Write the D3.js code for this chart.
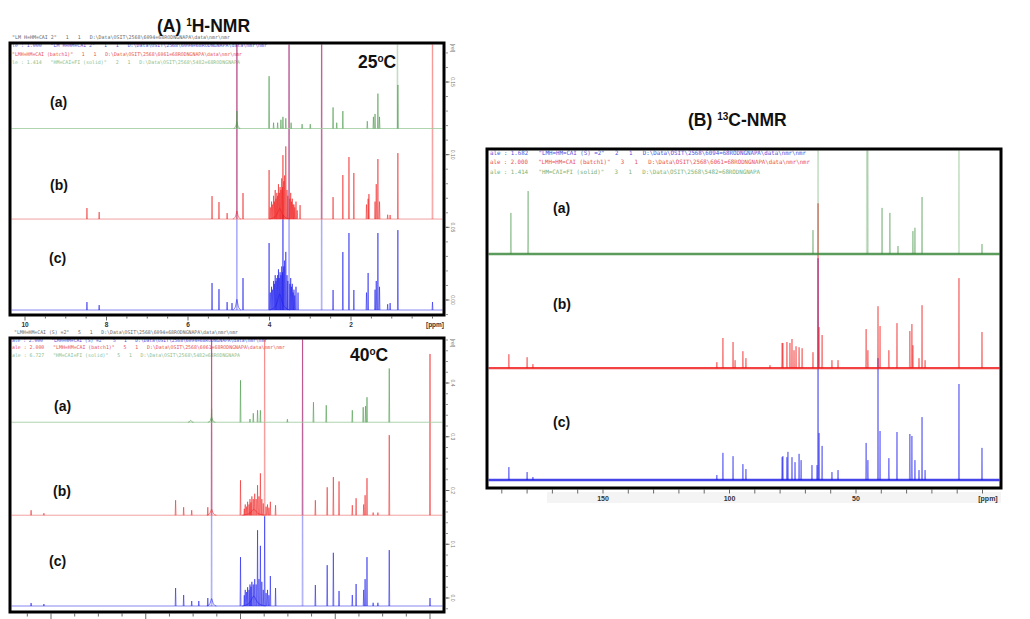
<!DOCTYPE html>
<html><head><meta charset="utf-8">
<script src="https://cdn.jsdelivr.net/npm/d3@7"></script>
<style>
html,body{margin:0;padding:0;background:#fff;}
svg{display:block;}
</style></head><body>
<script>
// ---------------- 1H NMR, 25 °C ----------------
const h25XTicks = [10, 8, 6, 4, 2];
const h25YTicks = [0, 0.05, 0.10, 0.15];
const h25Offsets = { a: 0.118, b: 0.0557, c: -0.0069 };
// [ppm, intensity(, half-width ppm for broad bands)]
const h25A = [[4.80,0.012],[4.80,0.005,0.08],[4.01,0.036],[3.90,0.004],[3.80,0.004],[3.72,0.006],[3.67,0.008],[3.60,0.007],[3.47,0.004],[3.20,0.003],[3.00,0.003],[2.44,0.0145],[2.35,0.004],[2.20,0.012],[1.60,0.005],[1.45,0.008],[1.41,0.010],[1.34,0.024],[1.30,0.008],[0.86,0.30],[0.85,0.030]];
const h25B = [[8.48,0.0076],[8.18,0.0048],[5.41,0.0158],[5.24,0.0117],[5.04,0.0041],[4.80,0.30],[4.80,0.006,0.10],[4.65,0.0179],[4.01,0.0337],[3.98,0.008],[3.95,0.012],[3.93,0.010],[3.90,0.016],[3.88,0.012],[3.86,0.020],[3.84,0.014],[3.82,0.018],[3.80,0.016],[3.78,0.024],[3.76,0.018],[3.74,0.022],[3.72,0.020],[3.70,0.028],[3.68,0.022],[3.67,0.044],[3.65,0.026],[3.63,0.030],[3.60,0.050],[3.57,0.020],[3.55,0.016],[3.52,0.30],[3.50,0.014],[3.48,0.018],[3.46,0.012],[3.44,0.014],[3.42,0.010],[3.40,0.010],[3.38,0.008],[3.35,0.012],[3.32,0.006],[3.75,0.008,0.25],[3.25,0.0096],[2.72,0.30],[2.44,0.0151],[2.20,0.0303],[2.05,0.0427],[1.93,0.0317],[1.62,0.010],[1.58,0.014],[1.56,0.0172],[1.41,0.012],[1.38,0.024],[1.34,0.0413],[1.30,0.012],[1.10,0.003],[1.04,0.0028],[0.85,0.0454],[0.0,0.30]];
const h25C = [[8.48,0.0055],[8.18,0.0034],[5.41,0.0186],[5.24,0.0144],[5.04,0.0055],[4.92,0.0048],[4.80,0.30],[4.80,0.008,0.10],[4.65,0.022],[4.01,0.0461],[3.98,0.012],[3.95,0.016],[3.93,0.014],[3.90,0.020],[3.88,0.018],[3.86,0.024],[3.84,0.020],[3.82,0.022],[3.80,0.024],[3.78,0.028],[3.76,0.022],[3.74,0.026],[3.72,0.024],[3.70,0.030],[3.68,0.026],[3.67,0.0654],[3.65,0.030],[3.63,0.034],[3.60,0.040],[3.57,0.024],[3.55,0.020],[3.52,0.30],[3.50,0.018],[3.48,0.022],[3.46,0.016],[3.44,0.018],[3.42,0.012],[3.40,0.014],[3.38,0.010],[3.35,0.016],[3.30,0.012],[3.75,0.012,0.25],[2.72,0.30],[2.44,0.0138],[2.20,0.0399],[2.05,0.053],[1.93,0.0138],[1.62,0.012],[1.58,0.0255],[1.41,0.014],[1.38,0.020],[1.34,0.053],[1.30,0.016],[1.10,0.004],[1.04,0.0048],[0.85,0.055],[0.0,0.0055]];
const h25Header = [
  '"LM H=HM=CAI 2"   1   1   D:\\Data\\OSIT\\2568\\6094=68RODNGNAPA\\data\\nmr\\nmr',
  'le : 1.000   "LM H=HM=CAI 2"   1   1   D:\\Data\\OSIT\\2568\\6094=68RODNGNAPA\\data\\nmr\\nmr',
  '"LMH=HM=CAI (batch1)"   1   1   D:\\Data\\OSIT\\2568\\6061=68RODNGNAPA\\data\\nmr\\nmr',
  'le : 1.414   "HM=CAI=FI (solid)"   2   1   D:\\Data\\OSIT\\2568\\5482=68RODNGNAPA'
];

// ---------------- 1H NMR, 40 °C ----------------
const h40XTicks = [8, 6, 4, 2, 0];
const h40YTicks = [0, 0.1, 0.2, 0.3, 0.4];
const h40Offsets = { a: 0.327, b: 0.154, c: -0.0149 };
const h40A = [[5.05,0.004,0.06],[4.61,0.025],[4.61,0.010,0.08],[4.00,0.078],[3.80,0.006],[3.73,0.0167],[3.64,0.0223],[3.58,0.0223],[3.01,0.0056],[2.46,0.0372],[2.19,0.0316],[1.64,0.0223],[1.41,0.028],[1.36,0.030],[1.33,0.0465],[0.86,0.100]];
const h40B = [[8.42,0.0093],[8.15,0.0037],[5.37,0.0279],[5.20,0.0149],[5.03,0.0093],[4.69,0.0149],[4.61,0.50],[4.61,0.012,0.10],[4.00,0.065],[3.92,0.012],[3.90,0.020],[3.87,0.016],[3.85,0.025],[3.82,0.020],[3.80,0.030],[3.78,0.024],[3.76,0.035],[3.73,0.030],[3.70,0.040],[3.67,0.030],[3.64,0.0558],[3.61,0.035],[3.58,0.078],[3.55,0.030],[3.52,0.022],[3.49,0.50],[3.46,0.016],[3.43,0.020],[3.40,0.014],[3.37,0.025],[3.72,0.012,0.25],[3.26,0.0186],[2.69,0.50],[2.42,0.0279],[2.17,0.052],[2.04,0.071],[1.92,0.063],[1.64,0.0186],[1.56,0.0316],[1.40,0.020],[1.37,0.0372],[1.33,0.069],[1.20,0.005],[1.10,0.005],[0.86,0.149],[0.0,0.30]];
const h40C = [[8.42,0.0056],[8.15,0.0037],[5.37,0.0335],[5.20,0.0205],[5.03,0.0093],[4.88,0.0093],[4.69,0.0149],[4.61,0.50],[4.61,0.015,0.10],[4.00,0.091],[3.92,0.020],[3.90,0.030],[3.87,0.026],[3.85,0.035],[3.82,0.030],[3.80,0.040],[3.78,0.036],[3.76,0.045],[3.73,0.040],[3.70,0.050],[3.67,0.040],[3.64,0.141],[3.61,0.050],[3.58,0.112],[3.55,0.045],[3.52,0.030],[3.49,0.167],[3.46,0.024],[3.43,0.030],[3.40,0.020],[3.37,0.0558],[3.72,0.020,0.25],[3.26,0.0335],[2.69,0.50],[2.42,0.039],[2.17,0.076],[2.04,0.099],[1.92,0.028],[1.64,0.0205],[1.56,0.041],[1.40,0.030],[1.37,0.050],[1.33,0.091],[1.20,0.006],[1.10,0.006],[0.86,0.104],[0.0,0.0149]];
const h40Header = [
  '"LMH=HM=CAI (S) =2"   5   1   D:\\Data\\OSIT\\2568\\6094=68RODNGNAPA\\data\\nmr\\nmr',
  'ale : 2.000   "LMH=HM=CAI (S) =2"   5   1   D:\\Data\\OSIT\\2568\\6094=68RODNGNAPA\\data\\nmr\\nmr',
  'ale : 2.000   "LMH=HM=CAI (batch1)"   5   1   D:\\Data\\OSIT\\2568\\6061=68RODNGNAPA\\data\\nmr\\nmr',
  'ale : 6.727   "HM=CAI=FI (solid)"   5   1   D:\\Data\\OSIT\\2568\\5482=68RODNGNAPA'
];

// ---------------- 13C NMR ----------------
const c13XTicks = [150, 100, 50];
const c13Offsets = { a: 68.3, b: 33.8, c: 0 };
const c13A = [[186.4,12.4],[179.6,19.0],[67.0,7.2],[65.0,100],[45.7,100],[45.3,100],[39.7,13.9],[36.6,12.4],[33.4,2.4],[27.5,6.9],[26.7,7.9],[23.9,17.2],[9.3,100],[0.2,3.0]];
const c13B = [[187.2,4.2],[180.0,3.3],[177.7,1.2],[105.0,1.8],[102.6,9.1],[98.6,7.9],[97.8,2.4],[94.7,5.1],[93.5,3.0],[84.0,0.9],[79.2,7.6],[78.9,7.6],[77.3,7.9],[76.1,7.6],[75.3,8.8],[74.5,5.4],[73.7,6.6],[72.5,6.3],[71.3,6.0],[67.0,4.8],[65.0,49.8],[64.6,12.4],[63.4,10.0],[59.5,2.4],[57.1,2.4],[46.0,11.8],[45.3,5.4],[41.3,18.7],[40.5,12.7],[37.0,5.4],[33.8,13.6],[28.7,11.2],[27.9,13.3],[27.5,6.9],[25.1,3.0],[23.9,19.0],[22.7,2.4],[9.3,27.2],[0.2,10.9]];
const c13C = [[187.2,3.9],[180.0,2.4],[177.7,0.9],[105.0,1.5],[102.6,8.2],[98.6,7.2],[94.7,4.8],[93.5,3.3],[79.2,6.9],[78.9,7.2],[77.3,6.9],[76.9,8.5],[75.3,6.9],[74.1,5.4],[72.5,7.9],[71.7,6.0],[67.4,4.5],[65.4,4.5],[65.0,67],[64.6,14.2],[63.4,10.3],[59.5,2.4],[57.1,3.0],[46.0,11.2],[45.3,6.0],[41.3,36.8],[40.5,14.8],[37.0,6.6],[33.8,14.5],[28.7,13.9],[27.9,13.3],[26.7,6.0],[25.1,3.0],[23.9,19.0],[22.7,3.0],[9.3,29.0],[0.2,9.7]];
const c13Header = [
  'ale : 1.682   "LMH=HM=CAI (S) =2"   2   1   D:\\Data\\OSIT\\2568\\6094=68RODNGNAPA\\data\\nmr\\nmr',
  'ale : 2.000   "LMH=HM=CAI (batch1)"   3   1   D:\\Data\\OSIT\\2568\\6061=68RODNGNAPA\\data\\nmr\\nmr',
  'ale : 1.414   "HM=CAI=FI (solid)"   3   1   D:\\Data\\OSIT\\2568\\5482=68RODNGNAPA'
];

const sampleLabels = ["(a)", "(b)", "(c)"];

// ---------------------------------------------------------------
const svg = d3.select("body").append("svg")
  .attr("width", 1030).attr("height", 619)
  .style("font-family", "'Liberation Sans', Arial, sans-serif");
const defs = svg.append("defs");
const mono = "'DejaVu Sans Mono', 'Liberation Mono', monospace";

const broadLine = d3.line().curve(d3.curveBasis);
// relative profile of a broad band, in units of its half-width / height
const bandProfile = [[1,0],[0.6,0.08],[0.3,0.3],[0.12,0.75],[0,1],[-0.12,0.75],[-0.3,0.3],[-0.6,0.08],[-1,0]];

function drawPanel(p) {
  const g = svg.append("g");
  const f = p.frame;
  const clipId = p.id + "-clip";
  defs.append("clipPath").attr("id", clipId)
    .append("rect").attr("x", f.x + 1.5).attr("y", f.y + 1.5)
    .attr("width", f.w - 3).attr("height", f.h - 3);

  // acquisition header lines
  p.header.forEach(h => {
    g.append("text").attr("x", h.x).attr("y", h.y)
      .attr("xml:space", "preserve").style("white-space", "pre")
      .attr("textLength", h.len).attr("lengthAdjust", "spacingAndGlyphs")
      .style("font-family", mono).style("font-size", h.size + "px")
      .attr("fill", h.color).attr("opacity", h.op || 0.9)
      .text(h.text);
  });

  const plot = g.append("g").attr("clip-path", `url(#${clipId})`);
  const left = p.x.invert(f.x), right = p.x.invert(f.x + f.w);

  p.series.forEach(s => {
    const base = p.y(s.offset);
    // baseline
    plot.append("line")
      .attr("x1", p.x(left)).attr("x2", p.x(right))
      .attr("y1", base).attr("y2", base)
      .attr("stroke", s.baseColor).attr("stroke-width", s.baseWidth)
      .attr("opacity", s.baseOp);
    // broad bands
    s.peaks.filter(d => d.length > 2).forEach(([ppm, h, w]) => {
      plot.append("path")
        .attr("d", broadLine(bandProfile.map(([dx, fy]) => [p.x(ppm + dx * w), p.y(s.offset + fy * h)])))
        .attr("fill", "none").attr("stroke", s.color)
        .attr("stroke-width", 0.8).attr("opacity", s.op);
    });
    // sharp lines; those running off the top of the frame are drawn paler
    const sharp = s.peaks.filter(d => d.length === 2);
    [false, true].forEach(tall => {
      const path = d3.path();
      sharp.filter(([, h]) => (p.y(s.offset + h) < f.y) === tall).forEach(([ppm, h]) => {
        path.moveTo(p.x(ppm + p.hw), base);
        path.lineTo(p.x(ppm), p.y(s.offset + h));
        path.lineTo(p.x(ppm - p.hw), base);
      });
      plot.append("path").attr("d", path.toString())
        .attr("fill", "none").attr("stroke", s.color)
        .attr("stroke-width", tall ? 0.7 : s.lineWidth)
        .attr("opacity", tall ? s.tallOp : s.op);
    });
  });

  // sample labels
  p.labels.forEach((l, i) => {
    g.append("text").attr("x", l.x).attr("y", l.y)
      .style("font-size", "14px").style("font-weight", "bold")
      .attr("fill", "#111").text(sampleLabels[i]);
  });

  // x ticks below the frame
  const fb = f.y + f.h + 1.5;
  const minor = d3.range(Math.ceil(right / p.minorStep) * p.minorStep, left + 1e-9, p.minorStep);
  g.selectAll(null).data(minor).join("line")
    .attr("x1", d => p.x(d)).attr("x2", d => p.x(d))
    .attr("y1", fb).attr("y2", d => fb + (p.xTicks.includes(+d.toFixed(3)) ? p.majorLen : p.minorLen))
    .attr("stroke", "#444").attr("stroke-width", 0.8);
  if (p.xLabelY) {
    g.selectAll(null).data(p.xTicks).join("text")
      .attr("x", d => p.x(d)).attr("y", p.xLabelY)
      .attr("text-anchor", "middle")
      .style("font-size", p.xLabelSize + "px").style("font-weight", "bold")
      .attr("fill", "#333").text(d => d);
    g.append("text").attr("x", p.ppmX).attr("y", p.xLabelY)
      .attr("text-anchor", "middle")
      .style("font-size", p.xLabelSize + "px").style("font-weight", "bold")
      .attr("fill", "#333").text("[ppm]");
  }

  // frame
  g.append("rect").attr("x", f.x).attr("y", f.y).attr("width", f.w).attr("height", f.h)
    .attr("fill", "none").attr("stroke", "#000").attr("stroke-width", 3);
  return g;
}

function rightAxis(g, p, ticks, minorStep, fmt) {
  const f = p.frame;
  const xr = f.x + f.w + 1.5;
  const lo = p.y.invert(f.y + f.h), hi = p.y.invert(f.y);
  const minor = d3.range(Math.ceil(lo / minorStep) * minorStep, hi, minorStep);
  g.selectAll(null).data(minor).join("line")
    .attr("x1", xr).attr("x2", xr + 2.5)
    .attr("y1", d => p.y(d)).attr("y2", d => p.y(d))
    .attr("stroke", "#666").attr("stroke-width", 0.7);
  g.selectAll(null).data(ticks).join("line")
    .attr("x1", xr).attr("x2", xr + 4)
    .attr("y1", d => p.y(d)).attr("y2", d => p.y(d))
    .attr("stroke", "#555").attr("stroke-width", 0.8);
  g.selectAll(null).data(ticks).join("text")
    .attr("transform", d => `translate(${xr + 5},${p.y(d)}) rotate(90)`)
    .attr("text-anchor", "middle")
    .style("font-size", "5px").attr("fill", "#777").text(fmt);
  g.append("text")
    .attr("transform", `translate(${xr + 5},${f.y + 5}) rotate(90)`)
    .attr("text-anchor", "middle")
    .style("font-size", "5px").attr("fill", "#777").text("[rel]");
}

// ---- 1H 25 °C ----
const p25 = {
  id: "h25",
  frame: { x: 10, y: 43, w: 434, h: 272 },
  x: d3.scaleLinear().domain([10, 2]).range([25, 351]),
  y: d3.scaleLinear().domain([0, 0.15]).range([300, 82]),
  hw: 0.01, minorStep: 0.5, majorLen: 4, minorLen: 2,
  xTicks: h25XTicks, xLabelY: 327, xLabelSize: 6.5, ppmX: 435,
  header: [
    { text: h25Header[0], x: 12, y: 39, len: 218, size: 5, color: "#555" },
    { text: h25Header[1], x: 12, y: 47, len: 255, size: 5, color: "#3b3bd8" },
    { text: h25Header[2], x: 12, y: 55.5, len: 230, size: 5, color: "#e83a3a" },
    { text: h25Header[3], x: 12, y: 63.5, len: 228, size: 5, color: "#7fb87f" }
  ],
  series: [
    { peaks: h25C, offset: h25Offsets.c, color: "#2222ee", baseColor: "#6a6af0", baseWidth: 1, baseOp: 0.8, lineWidth: 0.8, op: 0.75, tallOp: 0.45 },
    { peaks: h25B, offset: h25Offsets.b, color: "#f02020", baseColor: "#f08a8a", baseWidth: 1, baseOp: 0.8, lineWidth: 0.8, op: 0.7, tallOp: 0.5 },
    { peaks: h25A, offset: h25Offsets.a, color: "#4a9a4a", baseColor: "#9ccb9c", baseWidth: 1, baseOp: 0.8, lineWidth: 0.8, op: 0.75, tallOp: 0.4 }
  ],
  labels: [{ x: 50, y: 107 }, { x: 50, y: 190 }, { x: 49, y: 263 }]
};
const g25 = drawPanel(p25);
rightAxis(g25, p25, h25YTicks, 0.01, d3.format(".2f"));

// ---- 1H 40 °C ----
const p40 = {
  id: "h40",
  frame: { x: 10, y: 338, w: 434, h: 274 },
  x: d3.scaleLinear().domain([8, 0]).range([51, 430]),
  y: d3.scaleLinear().domain([0, 0.4]).range([598, 383]),
  hw: 0.009, minorStep: 0.5, majorLen: 6, minorLen: 3,
  xTicks: h40XTicks, xLabelY: null,
  header: [
    { text: h40Header[0], x: 14, y: 334, len: 224, size: 5, color: "#555" },
    { text: h40Header[1], x: 12, y: 342, len: 255, size: 5, color: "#3b3bd8" },
    { text: h40Header[2], x: 12, y: 349, len: 273, size: 5, color: "#e83a3a" },
    { text: h40Header[3], x: 12, y: 356.5, len: 228, size: 5, color: "#7fb87f" }
  ],
  series: [
    { peaks: h40C, offset: h40Offsets.c, color: "#2222ee", baseColor: "#6a6af0", baseWidth: 1, baseOp: 0.8, lineWidth: 0.8, op: 0.75, tallOp: 0.45 },
    { peaks: h40B, offset: h40Offsets.b, color: "#f02020", baseColor: "#f08a8a", baseWidth: 1, baseOp: 0.8, lineWidth: 0.8, op: 0.7, tallOp: 0.5 },
    { peaks: h40A, offset: h40Offsets.a, color: "#4a9a4a", baseColor: "#9ccb9c", baseWidth: 1, baseOp: 0.8, lineWidth: 0.8, op: 0.75, tallOp: 0.4 }
  ],
  labels: [{ x: 54, y: 411 }, { x: 53, y: 496 }, { x: 49, y: 566 }]
};
const g40 = drawPanel(p40);
rightAxis(g40, p40, h40YTicks, 0.02, d3.format(".1f"));

// ---- 13C ----
const pC = {
  id: "c13",
  frame: { x: 487, y: 149, w: 514, h: 339 },
  x: d3.scaleLinear().domain([150, 50]).range([603, 856]),
  y: d3.scaleLinear().domain([0, 100]).range([480, 149]),
  hw: 0.2, minorStep: 10, majorLen: 4, minorLen: 4,
  xTicks: c13XTicks, xLabelY: 501, xLabelSize: 7, ppmX: 988,
  header: [
    { text: c13Header[0], x: 490, y: 154.5, len: 316, size: 6, color: "#3b3bd8" },
    { text: c13Header[1], x: 490, y: 164, len: 320, size: 6, color: "#e83a3a" },
    { text: c13Header[2], x: 490, y: 173.5, len: 270, size: 6, color: "#6aaa6a" }
  ],
  series: [
    { peaks: c13C, offset: c13Offsets.c, color: "#1818f0", baseColor: "#2424e6", baseWidth: 2.4, baseOp: 0.85, lineWidth: 0.7, op: 0.7, tallOp: 0.45 },
    { peaks: c13B, offset: c13Offsets.b, color: "#f01818", baseColor: "#f02222", baseWidth: 2.4, baseOp: 0.85, lineWidth: 0.7, op: 0.7, tallOp: 0.45 },
    { peaks: c13A, offset: c13Offsets.a, color: "#3d8f3d", baseColor: "#3f8a3f", baseWidth: 2.4, baseOp: 0.85, lineWidth: 0.7, op: 0.6, tallOp: 0.35 }
  ],
  labels: [{ x: 553, y: 213 }, { x: 553, y: 309 }, { x: 553, y: 427 }]
};
// faint strip behind the ppm scale
svg.append("rect").attr("x", 547).attr("y", 492).attr("width", 454).attr("height", 11).attr("fill", "#f4f4f4");
drawPanel(pC);

// ---- titles ----
function title(x, y, parts) {
  const t = svg.append("text").attr("x", x).attr("y", y)
    .style("font-size", "17.5px").style("font-weight", "bold").attr("fill", "#111");
  let raised = false;
  parts.forEach(([s, sup]) => {
    t.append("tspan").attr("dy", sup ? -6 : (raised ? 6 : 0))
      .style("font-size", sup ? "10px" : null).text(s);
    raised = !!sup;
  });
}
title(157, 32, [["(A) "], ["1", true], ["H-NMR"]]);
title(688, 126, [["(B) "], ["13", true], ["C-NMR"]]);
title(358, 68, [["25"], ["o", true], ["C"]]);
title(350, 361, [["40"], ["o", true], ["C"]]);
</script>
</body></html>
